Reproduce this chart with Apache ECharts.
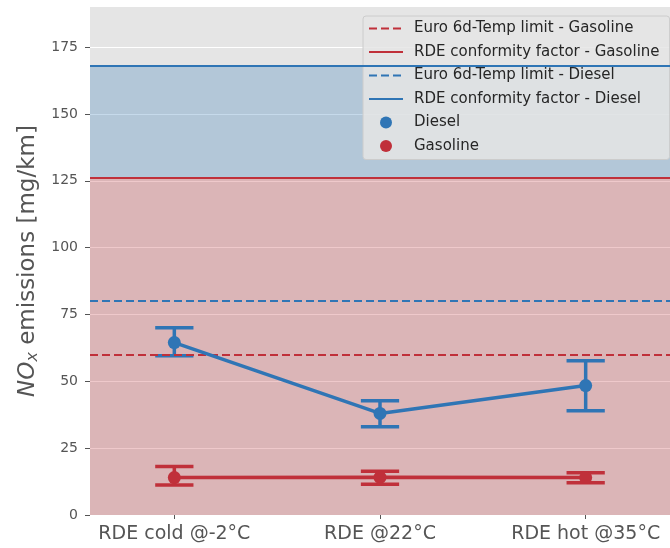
<!DOCTYPE html>
<html>
<head>
<meta charset="utf-8">
<title>NOx emissions</title>
<script src="https://cdn.jsdelivr.net/npm/echarts@6/dist/echarts.min.js"></script>
<style>
  html, body { margin: 0; padding: 0; background: #fff; }
  #main { width: 670px; height: 548px; }
</style>
</head>
<body>
<div id="main"></div>
<script>
// categories and values
var categories = ['RDE cold @-2°C', 'RDE @22°C', 'RDE hot @35°C'];
var dieselMean = [64.5, 38.0, 48.4];
var dieselLow = [59.6, 33.0, 39.0];
var dieselHigh = [70.0, 42.7, 57.7];
var gasMean = [14.0, 14.1, 14.0];
var gasLow = [11.2, 11.5, 12.1];
var gasHigh = [18.1, 16.4, 15.8];
var euroGas = 60, rdeGas = 126, euroDiesel = 80, rdeDiesel = 168;
var yTicks = [0, 25, 50, 75, 100, 125, 150, 175];

var blue = '#2f75b5', red = '#c0303a';
var catIdx = categories.map(function (c, i) { return i; });

function pts(arr) { return arr.map(function (v, i) { return [i, v]; }); }
function errData(lo, hi) { return lo.map(function (v, i) { return [i, v, hi[i]]; }); }

function errBar(color) {
  return function (params, api) {
    var x = api.value(0);
    var lo = api.coord([x, api.value(1)]);
    var hi = api.coord([x, api.value(2)]);
    var a = api.coord([x - 0.093, 0])[0], b = api.coord([x + 0.093, 0])[0];
    var st = { stroke: color, lineWidth: 3.5 };
    return {
      type: 'group',
      children: [
        { type: 'line', shape: { x1: lo[0], y1: lo[1], x2: hi[0], y2: hi[1] }, style: st },
        { type: 'line', shape: { x1: a, y1: lo[1], x2: b, y2: lo[1] }, style: st },
        { type: 'line', shape: { x1: a, y1: hi[1], x2: b, y2: hi[1] }, style: st }
      ]
    };
  };
}

function limitSeries(name, value, color, dashed) {
  return {
    name: name, type: 'line', data: [], symbol: 'none',
    lineStyle: { color: color, width: 2, type: dashed ? [8, 4] : 'solid' },
    itemStyle: { color: color },
    markLine: {
      silent: true, symbol: 'none', label: { show: false },
      lineStyle: { color: color, width: 2, type: dashed ? [8, 4] : 'solid' },
      data: [{ yAxis: value }]
    },
    z: 3
  };
}

// legend entry for a plain line: no marker in the middle
function lineEntry(name) {
  return { name: name, itemStyle: { opacity: 0, borderWidth: 0 } };
}

var chart = echarts.init(document.getElementById('main'));
chart.setOption({
  animation: false,
  textStyle: { fontFamily: 'DejaVu Sans' },
  grid: { left: 90, right: 0, top: 7, bottom: 33, show: true, backgroundColor: '#e5e5e5', borderWidth: 0 },
  legend: {
    orient: 'vertical', left: 363, top: 16,
    padding: [5, 10, 6, 5], itemGap: 8.5,
    itemWidth: 34, itemHeight: 12,
    backgroundColor: 'rgba(229,229,229,0.85)', borderColor: '#cccccc', borderWidth: 1, borderRadius: 3,
    textStyle: { fontSize: 15, color: '#262626', padding: [0, 0, 0, 6] },
    data: [
      lineEntry('Euro 6d-Temp limit - Gasoline'),
      lineEntry('RDE conformity factor - Gasoline'),
      lineEntry('Euro 6d-Temp limit - Diesel'),
      lineEntry('RDE conformity factor - Diesel'),
      { name: 'Diesel', icon: 'circle' },
      { name: 'Gasoline', icon: 'circle' }
    ]
  },
  xAxis: {
    type: 'value', min: -0.41, max: 2.41,
    axisLine: { show: false },
    splitLine: { show: false },
    axisTick: { show: true, length: 4, lineStyle: { color: '#555' }, customValues: catIdx },
    axisLabel: {
      fontSize: 19, color: '#555', margin: 10, customValues: catIdx,
      formatter: function (v) { return categories[Math.round(v)]; }
    }
  },
  yAxis: {
    type: 'value', min: 0, max: 190,
    name: '{i|NO}{s|x}{n| emissions [mg/km]}',
    nameLocation: 'middle', nameRotate: 90, nameGap: 46,
    nameTextStyle: {
      color: '#555',
      rich: {
        i: { fontSize: 23, fontStyle: 'italic', color: '#555' },
        s: { fontSize: 16, fontStyle: 'italic', color: '#555', padding: [9, 0, 0, 0] },
        n: { fontSize: 23, color: '#555' }
      }
    },
    axisLine: { show: false, onZero: false },
    axisTick: { show: true, length: 5, lineStyle: { color: '#555' }, customValues: yTicks },
    axisLabel: { fontSize: 14, color: '#555', margin: 12, customValues: yTicks },
    splitLine: { show: true, lineStyle: { color: '#ffffff', width: 1 } }
  },
  series: [
    {
      type: 'line', data: [], silent: true, z: 1,
      markArea: {
        silent: true,
        data: [
          [{ yAxis: rdeGas, itemStyle: { color: 'rgba(46,117,182,0.27)' } }, { yAxis: rdeDiesel }],
          [{ yAxis: 0, itemStyle: { color: 'rgba(192,45,55,0.26)' } }, { yAxis: rdeGas }]
        ]
      }
    },
    limitSeries('Euro 6d-Temp limit - Gasoline', euroGas, red, true),
    limitSeries('RDE conformity factor - Gasoline', rdeGas, red, false),
    limitSeries('Euro 6d-Temp limit - Diesel', euroDiesel, blue, true),
    limitSeries('RDE conformity factor - Diesel', rdeDiesel, blue, false),
    {
      type: 'custom', renderItem: errBar(blue), data: errData(dieselLow, dieselHigh),
      encode: { x: 0, y: [1, 2] }, z: 4, silent: true
    },
    {
      type: 'custom', renderItem: errBar(red), data: errData(gasLow, gasHigh),
      encode: { x: 0, y: [1, 2] }, z: 4, silent: true
    },
    {
      name: 'Diesel', type: 'line', data: pts(dieselMean), symbol: 'circle', symbolSize: 13,
      lineStyle: { color: blue, width: 3.5 }, itemStyle: { color: blue }, z: 5
    },
    {
      name: 'Gasoline', type: 'line', data: pts(gasMean), symbol: 'circle', symbolSize: 13,
      lineStyle: { color: red, width: 3.5 }, itemStyle: { color: red }, z: 5
    }
  ]
});
</script>
</body>
</html>
